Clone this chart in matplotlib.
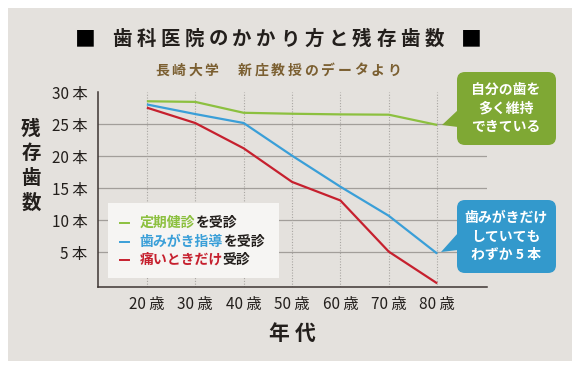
import matplotlib
matplotlib.use("Agg")
import matplotlib.pyplot as plt
from matplotlib.patches import Rectangle, FancyBboxPatch, Polygon
from matplotlib.lines import Line2D
from matplotlib.transforms import Affine2D

plt.rcParams["font.family"] = ["Noto Sans CJK JP", "DejaVu Sans"]

# ---------- データ ----------
ages = [20, 30, 40, 50, 60, 70, 80]
age_labels = ["20 歳", "30 歳", "40 歳", "50 歳", "60 歳", "70 歳", "80 歳"]
teiki = [28.6, 28.5, 26.8, 26.65, 26.55, 26.5, 24.9]       # 定期健診を受診
hamigaki = [28.1, 26.6, 25.2, 20.1, 15.25, 10.7, 4.8]      # 歯みがき指導を受診
itai = [27.6, 25.2, 21.25, 16.0, 13.1, 5.1, 0.15]          # 痛いときだけ受診
y_ticks = [5, 10, 15, 20, 25, 30]
y_labels = ["5 本", "10 本", "15 本", "20 本", "25 本", "30 本"]
grid_levels = [5, 10, 15, 20, 25]

series = [
    (teiki, "定期健診", "を受診", "#8cc03f"),
    (hamigaki, "歯みがき指導", "を受診", "#3a9fd8"),
    (itai, "痛いときだけ", "受診", "#c6202e"),
]

W, H = 579, 370
BG = "#e4e1dd"
TXT = "#231f1c"

fig = plt.figure(figsize=(W / 100, H / 100), dpi=100, facecolor="white")
# 画像ピクセル座標（左上原点）
px = Affine2D().scale(1 / W, -1 / H).translate(0, 1) + fig.transFigure

fig.patches.append(Rectangle((8, 8), 564, 353, transform=px, facecolor=BG,
                             edgecolor="none", zorder=-5))

# ---------- 軸 ----------
ax_l, ax_r, ax_t, ax_b = 98, 487, 92.3, 286.7
ax = fig.add_axes([ax_l / W, 1 - ax_b / H, (ax_r - ax_l) / W, (ax_b - ax_t) / H])
ax.set_zorder(1)
ax.patch.set_alpha(0)
ax.set_xlim(9.9, 90.3)
ax.set_ylim(-0.375, 30)

for v in grid_levels:
    ax.axhline(v, color="#a29e9a", linewidth=0.9, zorder=1)
for a in ages:
    ax.axvline(a, color="#a9a6a2", linewidth=0.8, linestyle=(0, (1, 1.5)), zorder=1)

for vals, _, _, col in series:
    ax.plot(ages, vals, color=col, linewidth=1.6, zorder=3, solid_capstyle="butt")

for s in ["top", "right"]:
    ax.spines[s].set_visible(False)
for s in ["left", "bottom"]:
    ax.spines[s].set_color("#3e3633")
    ax.spines[s].set_linewidth(1.1)

ax.set_xticks(ages)
ax.set_xticklabels(age_labels, fontsize=11, color=TXT)
ax.set_yticks(y_ticks)
ax.set_yticklabels(y_labels, fontsize=11, color=TXT)
ax.tick_params(axis="both", length=0)
ax.tick_params(axis="x", pad=7)
ax.tick_params(axis="y", pad=7.5)


def spaced(x_c, y, s, pitch, **kw):
    n = len(s)
    x0 = x_c - pitch * (n - 1) / 2
    for i, ch in enumerate(s):
        if ch != " ":
            fig.text(x0 + i * pitch, y, ch, transform=px, ha="center", va="center", **kw)


# ---------- タイトル ----------
fig.text(85, 39.5, "■", transform=px, ha="center", va="center", fontsize=15, color="black")
fig.text(471, 39.5, "■", transform=px, ha="center", va="center", fontsize=15, color="black")
spaced(278, 39.5, "歯科医院のかかり方と残存歯数", 24.0, fontsize=14, fontweight="bold", color=TXT)
spaced(278, 70.5, "長崎大学 新庄教授のデータより", 16.6, fontsize=10, fontweight="bold", color="#7b5f31")

# 軸タイトル
for i, ch in enumerate("残存歯数"):
    fig.text(31, 129 + i * 24.7, ch, transform=px, ha="center", va="center",
             fontsize=14, fontweight="bold", color=TXT)
spaced(292, 333, "年代", 26, fontsize=15, fontweight="bold", color=TXT)

# ---------- 凡例 ----------
fig.patches.append(Rectangle((108, 203), 171, 75, transform=px, facecolor="#f6f5f3",
                             edgecolor="none", zorder=2))
renderer = fig.canvas.get_renderer()
for i, (_, name, suffix, col) in enumerate(series):
    y = 223 + i * 18.5
    fig.lines.append(Line2D([120, 129], [y, y], transform=px, color=col,
                            linewidth=1.4, zorder=3))
    t = fig.text(139.3, y, name, transform=px, ha="left", va="center", fontsize=10,
                 fontweight="bold", color=col, zorder=3)
    bb = t.get_window_extent(renderer)
    fig.text(bb.x1 / W, 1 - y / H, suffix, transform=fig.transFigure, ha="left",
             va="center", fontsize=10, fontweight="bold", color=TXT, zorder=3)


# ---------- 吹き出し ----------
def bubble(y0, y1, tip, col, lines):
    fig.patches.append(FancyBboxPatch((457, y0), 99, y1 - y0, transform=px,
                                      boxstyle="round,pad=0,rounding_size=8",
                                      facecolor=col, edgecolor="none", zorder=4))
    fig.patches.append(Polygon(tip, closed=True, transform=px, facecolor=col,
                               edgecolor="none", zorder=4))
    yc = (y0 + y1) / 2
    for k, t in enumerate(lines):
        fig.text(506, yc + (k - 1) * 19, t, transform=px, ha="center", va="center",
                 fontsize=10, fontweight="bold", color="white", zorder=5)


bubble(72, 145, [(442, 125), (458, 110), (458, 127)], "#7fa834",
       ["自分の歯を", "多く維持", "できている"])
bubble(200, 273, [(441, 252), (458, 233), (458, 250)], "#3399cc",
       ["歯みがきだけ", "していても", "わずか 5 本"])

fig.savefig("out.png", dpi=100, facecolor="white")
